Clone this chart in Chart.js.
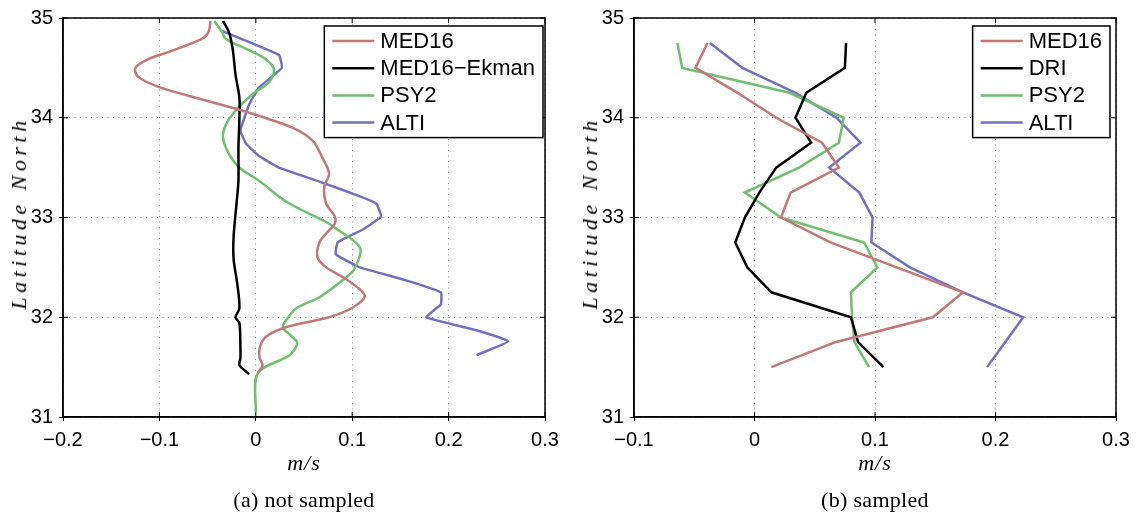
<!DOCTYPE html>
<html lang="en">
<head>
<meta charset="utf-8">
<title>Velocidade por latitude</title>
<script src="https://cdn.jsdelivr.net/npm/chart.js@4.4.0/dist/chart.umd.min.js"></script>
<style>
  html, body { margin: 0; padding: 0; background: #fff; }
  #quadro { position: relative; width: 1137px; height: 520px; overflow: hidden; }
  #quadro canvas { position: absolute; top: 0; }
  .texto { position: absolute; color: #000; white-space: nowrap; font-family: 'Liberation Serif', 'Times New Roman', serif; }
  .eixo-y { font-style: italic; font-size: 22px; letter-spacing: 4.5px; transform: translate(-50%, -50%) rotate(-90deg); }
  .eixo-x { font-style: italic; font-size: 22px; letter-spacing: 1px; transform: translate(-50%, -50%); }
  .legenda-fig { font-size: 22px; letter-spacing: 0.3px; transform: translate(-50%, -50%); }
</style>
</head>
<body>
<div id="quadro">
  <canvas id="grafico-a" width="570" height="520" style="left:0"></canvas>
  <canvas id="grafico-b" width="567" height="520" style="left:570px"></canvas>
  <div class="texto eixo-y" style="left:19px; top:213px">Latitude North</div>
  <div class="texto eixo-y" style="left:590px; top:213px">Latitude North</div>
  <div class="texto eixo-x" style="left:304px; top:463px">m/s</div>
  <div class="texto eixo-x" style="left:875px; top:463px">m/s</div>
  <div class="texto legenda-fig" style="left:304px; top:500px">(a) not sampled</div>
  <div class="texto legenda-fig" style="left:875px; top:500px">(b) sampled</div>
</div>
<script>
// =====================================================
// DADOS — painel (a) not sampled
// =====================================================
const nomesA = ['MED16', 'MED16−Ekman', 'PSY2', 'ALTI'];

const latMed16A = [34.97, 34.86, 34.79, 34.66, 34.59, 34.50, 34.41, 34.31, 34.21, 34.08, 34.02, 33.90, 33.77,
  33.60, 33.44, 33.31, 33.14, 33.01, 32.94, 32.84, 32.75, 32.60, 32.50, 32.38, 32.22, 32.10, 32.00, 31.90,
  31.80, 31.69, 31.59, 31.52, 31.44];
const velMed16A = [-0.047, -0.049, -0.056, -0.090, -0.111, -0.125, -0.122, -0.101, -0.066, -0.017, 0.003, 0.038, 0.059,
  0.069, 0.076, 0.071, 0.073, 0.082, 0.082, 0.073, 0.066, 0.064, 0.073, 0.094, 0.113, 0.101, 0.076, 0.031,
  0.010, 0.004, 0.004, 0.007, 0.002];

const latEkmanA = [34.97, 34.86, 34.69, 34.43, 34.20, 34.00, 33.70, 33.37, 33.14, 32.81, 32.58, 32.32, 32.09,
  32.00, 31.94, 31.72, 31.59, 31.52, 31.43];
const velEkmanA = [-0.034, -0.028, -0.024, -0.021, -0.017, -0.017, -0.018, -0.018, -0.020, -0.023, -0.023, -0.019, -0.017,
  -0.021, -0.017, -0.016, -0.016, -0.017, -0.007];

const latPsy2A = [34.97, 34.86, 34.79, 34.69, 34.59, 34.48, 34.36, 34.23, 34.07, 33.93, 33.80, 33.64, 33.50,
  33.37, 33.15, 32.96, 32.91, 32.70, 32.48, 32.37, 32.20, 32.09, 31.99, 31.90, 31.82, 31.74, 31.62, 31.44, 31.05];
const velPsy2A = [-0.043, -0.035, -0.031, -0.010, 0.010, 0.019, 0.014, -0.004, -0.021, -0.031, -0.034, -0.028, -0.017,
  0.003, 0.033, 0.072, 0.080, 0.108, 0.102, 0.090, 0.066, 0.042, 0.033, 0.028, 0.036, 0.043, 0.035, 0.002, 0.000];

const latAltiA = [34.87, 34.63, 34.50, 34.30, 34.13, 33.87, 33.74, 33.62, 33.50, 33.36, 33.22, 33.14, 33.01,
  32.88, 32.75, 32.63, 32.50, 32.37, 32.25, 32.13, 32.00, 31.87, 31.76, 31.62];
const velAltiA = [-0.035, 0.024, 0.027, 0.003, -0.007, -0.016, -0.010, 0.003, 0.024, 0.066, 0.106, 0.125, 0.130,
  0.111, 0.085, 0.083, 0.108, 0.156, 0.192, 0.192, 0.177, 0.229, 0.262, 0.229];

// =====================================================
// DADOS — painel (b) sampled
// =====================================================
const nomesB = ['MED16', 'DRI', 'PSY2', 'ALTI'];

const latitudesB = [34.75, 34.5, 34.25, 34.0, 33.75, 33.5, 33.25, 33.0, 32.75, 32.5, 32.25, 32.0, 31.75, 31.5];
const velMed16B = [-0.039, -0.049, -0.014, 0.018, 0.056, 0.070, 0.030, 0.022, 0.063, 0.118, 0.173, 0.148, 0.067, 0.014];
const velDriB   = [0.076, 0.075, 0.043, 0.034, 0.047, 0.018, 0.004, -0.008, -0.016, -0.006, 0.014, 0.080, 0.086, 0.107];
const velPsy2B  = [-0.064, -0.060, 0.029, 0.074, 0.070, 0.037, -0.008, 0.022, 0.091, 0.102, 0.080, 0.081, 0.083, 0.095];
const velAltiB  = [-0.037, -0.010, 0.034, 0.068, 0.088, 0.062, 0.087, 0.098, 0.097, 0.129, 0.173, 0.223, 0.208, 0.193];

// Rótulos dos eixos
const rotulosXA = ['−0.2', '−0.1', '0', '0.1', '0.2', '0.3'];
const rotulosXB = ['−0.1', '0', '0.1', '0.2', '0.3'];
const rotulosY = ['31', '32', '33', '34', '35'];

// Cores das séries (MED16, preto, PSY2, ALTI)
const CORES = ['rgb(192,120,120)', '#000000', 'rgb(112,190,112)', 'rgb(112,112,190)'];
const FONTE_SANS = "'Liberation Sans', Arial, Helvetica, sans-serif";

// =====================================================
// PLUGINS — moldura com ticks internos e legenda em caixa
// =====================================================
const pluginMoldura = {
  id: 'moldura',
  afterDatasetsDraw(chart) {
    const { ctx, chartArea: a, scales: { x, y } } = chart;
    ctx.save();
    ctx.strokeStyle = '#000';
    ctx.lineWidth = 1.5;
    ctx.strokeRect(a.left, a.top, a.right - a.left, a.bottom - a.top);
    ctx.lineWidth = 1;
    ctx.beginPath();
    x.ticks.forEach(t => {
      const px = x.getPixelForValue(t.value);
      ctx.moveTo(px, a.bottom); ctx.lineTo(px, a.bottom - 5);
      ctx.moveTo(px, a.top); ctx.lineTo(px, a.top + 5);
    });
    y.ticks.forEach(t => {
      const py = y.getPixelForValue(t.value);
      ctx.moveTo(a.left, py); ctx.lineTo(a.left + 5, py);
      ctx.moveTo(a.right, py); ctx.lineTo(a.right - 5, py);
    });
    ctx.stroke();
    ctx.restore();
  }
};

const pluginLegenda = {
  id: 'legendaCaixa',
  afterDraw(chart, args, opts) {
    const { ctx, chartArea: a } = chart;
    const itens = chart.data.datasets;
    ctx.save();
    ctx.font = `22px ${FONTE_SANS}`;
    const larguraTexto = Math.max(...itens.map(d => ctx.measureText(d.label).width));
    const largura = 8 + 42 + 6 + larguraTexto + 8;
    const passo = 27.2;
    const altura = 15 + passo * (itens.length - 1) + 15;
    const x0 = a.right - opts.dx - largura;
    const y0 = a.top + 8;

    ctx.fillStyle = '#fff';
    ctx.fillRect(x0, y0, largura, altura);
    ctx.strokeStyle = '#000';
    ctx.lineWidth = 1.5;
    ctx.strokeRect(x0, y0, largura, altura);

    itens.forEach((d, i) => {
      const yl = y0 + 15 + passo * i;
      ctx.strokeStyle = d.borderColor;
      ctx.lineWidth = 2.5;
      ctx.beginPath();
      ctx.moveTo(x0 + 8, yl);
      ctx.lineTo(x0 + 50, yl);
      ctx.stroke();
      ctx.fillStyle = '#000';
      ctx.textBaseline = 'middle';
      ctx.fillText(d.label, x0 + 56, yl + 1);
    });
    ctx.restore();
  }
};

// =====================================================
// MONTAGEM DOS GRÁFICOS
// =====================================================
function montarSerie(nome, cor, lats, vels, tensao) {
  return {
    label: nome,
    data: lats.map((lat, i) => ({ x: vels[i], y: lat })),
    showLine: true,
    borderColor: cor,
    backgroundColor: cor,
    borderWidth: 2.5,
    pointRadius: 0,
    pointHoverRadius: 0,
    tension: tensao,
    fill: false,
  };
}

function escalas(xMin, xMax, rotulosX, larguraY) {
  return {
    x: {
      type: 'linear',
      min: xMin,
      max: xMax,
      afterFit: (s) => { s.height = 60; },
      ticks: {
        stepSize: 0.1,
        autoSkip: false,
        maxRotation: 0,
        padding: 7,
        color: '#000',
        font: { family: FONTE_SANS, size: 20 },
        callback: (v) => rotulosX[Math.round((v - xMin) / 0.1)],
      },
      grid: { color: '#8a8a8a', lineWidth: 1, tickLength: 4, tickColor: '#000', tickWidth: 1 },
      border: { display: true, color: '#000', width: 1.5, dash: [1, 4.5] },
    },
    y: {
      type: 'linear',
      min: 31,
      max: 35,
      afterFit: (s) => { s.width = larguraY; },
      ticks: {
        stepSize: 1,
        padding: 6,
        color: '#000',
        font: { family: FONTE_SANS, size: 20 },
        callback: (v) => rotulosY[Math.round(v - 31)],
      },
      grid: { color: '#8a8a8a', lineWidth: 1, tickLength: 4, tickColor: '#000', tickWidth: 1 },
      border: { display: true, color: '#000', width: 1.5, dash: [1, 4.5] },
    },
  };
}

function criarGrafico(idCanvas, series, xMin, xMax, rotulosX, larguraY, padDireita, dxLegenda) {
  return new Chart(document.getElementById(idCanvas), {
    type: 'scatter',
    data: { datasets: series },
    options: {
      responsive: false,
      animation: false,
      layout: { padding: { top: 12, right: padDireita, bottom: 43, left: 0 } },
      plugins: {
        legend: { display: false },
        tooltip: { enabled: false },
        legendaCaixa: { dx: dxLegenda },
      },
      scales: escalas(xMin, xMax, rotulosX, larguraY),
    },
    plugins: [pluginMoldura, pluginLegenda],
  });
}

// =====================================================
// INIT
// =====================================================
criarGrafico('grafico-a', [
  montarSerie(nomesA[0], CORES[0], latMed16A, velMed16A, 0.3),
  montarSerie(nomesA[1], CORES[1], latEkmanA, velEkmanA, 0.3),
  montarSerie(nomesA[2], CORES[2], latPsy2A, velPsy2A, 0.3),
  montarSerie(nomesA[3], CORES[3], latAltiA, velAltiA, 0.1),
], -0.2, 0.3, rotulosXA, 63, 25, 2);

criarGrafico('grafico-b', [
  montarSerie(nomesB[0], CORES[0], latitudesB, velMed16B, 0),
  montarSerie(nomesB[1], CORES[1], latitudesB, velDriB, 0),
  montarSerie(nomesB[2], CORES[2], latitudesB, velPsy2B, 0),
  montarSerie(nomesB[3], CORES[3], latitudesB, velAltiB, 0),
], -0.1, 0.3, rotulosXB, 64, 21, 6);
</script>
</body>
</html>
